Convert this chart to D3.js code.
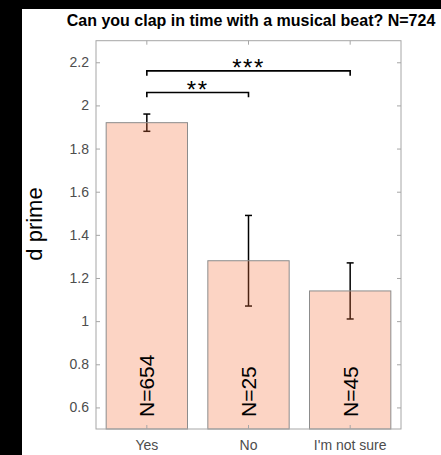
<!DOCTYPE html>
<html lang="en">
<head>
  <meta charset="UTF-8">
  <title>Clap in time - d prime</title>
  <script src="https://cdnjs.cloudflare.com/ajax/libs/d3/7.8.5/d3.min.js"></script>
  <style>
    body {
      margin: 0;
      padding: 0;
      background: #fff;
      font-family: "Liberation Sans", Arial, sans-serif;
    }
  </style>
</head>
<body>
  <div id="chart"></div>
  <script>
    // data
    const categories = ["Yes", "No", "I'm not sure"];
    const means = [1.92, 1.28, 1.14];
    const errors = [0.04, 0.21, 0.13];
    const counts = [654, 25, 45];
    const yTicks = [0.6, 0.8, 1, 1.2, 1.4, 1.6, 1.8, 2, 2.2];
    const sigFrom = [0, 0];
    const sigTo = [2, 1];
    const sigLevel = [2.16, 2.06];
    const sigLabel = ["***", "**"];

    const width = 441;
    const height = 455;
    const margin = { top: 40.7, right: 40, bottom: 26, left: 96 };

    const svg = d3.select("#chart")
      .append("svg")
      .attr("width", width)
      .attr("height", height);

    // black strips round the figure edge
    svg.append("rect").attr("x", 0).attr("y", 0).attr("width", width).attr("height", 9).attr("fill", "#000");
    svg.append("rect").attr("x", 0).attr("y", 0).attr("width", 22).attr("height", height).attr("fill", "#000");

    const x = d3.scaleBand()
      .domain(categories)
      .range([margin.left, width - margin.right])
      .paddingInner(0.2)
      .paddingOuter(0.1);

    const y = d3.scaleLinear()
      .domain([0.5, 2.3])
      .range([height - margin.bottom, margin.top]);

    const cx = c => x(c) + x.bandwidth() / 2;
    const data = categories.map((c, i) => ({ c, m: means[i], e: errors[i], n: counts[i] }));

    // error bars (drawn below the translucent bars)
    const eb = svg.append("g").attr("stroke", "#000").attr("stroke-width", 1.5);
    data.forEach(d => {
      eb.append("line").attr("x1", cx(d.c)).attr("x2", cx(d.c))
        .attr("y1", y(d.m - d.e)).attr("y2", y(d.m + d.e));
      [d.m - d.e, d.m + d.e].forEach(v => {
        eb.append("line").attr("x1", cx(d.c) - 3.5).attr("x2", cx(d.c) + 3.5)
          .attr("y1", y(v)).attr("y2", y(v));
      });
    });

    svg.append("g")
      .selectAll("rect")
      .data(data)
      .join("rect")
      .attr("x", d => x(d.c))
      .attr("width", x.bandwidth())
      .attr("y", d => y(d.m))
      .attr("height", d => y(0.5) - y(d.m))
      .attr("fill", "rgb(245,112,58)")
      .attr("fill-opacity", 0.3)
      .attr("stroke", "#8c8c8c")
      .attr("stroke-width", 1);

    // N labels inside bars
    svg.append("g")
      .selectAll("text")
      .data(data)
      .join("text")
      .attr("transform", d => `translate(${cx(d.c) + 7.5},${y(0.5) - 12}) rotate(-90)`)
      .attr("font-size", 21)
      .attr("fill", "#000")
      .text(d => "N=" + d.n);

    // axes box
    const bx0 = margin.left, bx1 = width - margin.right;
    const by0 = y(0.5), by1 = y(2.3);
    svg.append("rect")
      .attr("x", bx0).attr("y", by1)
      .attr("width", bx1 - bx0).attr("height", by0 - by1)
      .attr("fill", "none").attr("stroke", "#a6a6a6").attr("stroke-width", 1);

    const axLeft = svg.append("g")
      .attr("transform", `translate(${bx0},0)`)
      .call(d3.axisLeft(y).tickValues(yTicks).tickSize(-4).tickPadding(7).tickFormat(d3.format("")));
    const axRight = svg.append("g")
      .attr("transform", `translate(${bx1},0)`)
      .call(d3.axisRight(y).tickValues(yTicks).tickSize(-4).tickFormat(""));
    const axBottom = svg.append("g")
      .attr("transform", `translate(0,${by0})`)
      .call(d3.axisBottom(x).tickSize(-4).tickPadding(11));
    const axTop = svg.append("g")
      .attr("transform", `translate(0,${by1})`)
      .call(d3.axisTop(x).tickSize(-4).tickFormat(""));

    [axLeft, axRight, axBottom, axTop].forEach(g => {
      g.select(".domain").remove();
      g.selectAll(".tick line").attr("stroke", "#a6a6a6");
      g.selectAll("text")
        .attr("fill", "#4d4d4d")
        .attr("font-size", 14)
        .attr("font-family", "'Liberation Sans', Arial, sans-serif");
    });

    // significance brackets
    const sig = svg.append("g");
    sigLabel.forEach((lab, i) => {
      const xa = cx(categories[sigFrom[i]]);
      const xb = cx(categories[sigTo[i]]);
      const yl = y(sigLevel[i]);
      const yd = y(sigLevel[i] - 0.022);
      sig.append("path")
        .attr("d", `M${xa},${yd}V${yl}H${xb}V${yd}`)
        .attr("fill", "none").attr("stroke", "#000").attr("stroke-width", 1.6);
      sig.append("text")
        .attr("x", (xa + xb) / 2)
        .attr("y", yl + 5.5)
        .attr("text-anchor", "middle")
        .attr("font-size", 24)
        .attr("letter-spacing", 1.5)
        .text(lab);
    });

    // y label
    svg.append("text")
      .attr("transform", `translate(42,224) rotate(-90)`)
      .attr("text-anchor", "middle")
      .attr("font-size", 22)
      .attr("fill", "#000")
      .text("d prime");

    // title
    svg.append("text")
      .attr("x", 251)
      .attr("y", 26)
      .attr("text-anchor", "middle")
      .attr("font-size", 16)
      .attr("font-weight", "bold")
      .attr("fill", "#000")
      .text("Can you clap in time with a musical beat? N=724");
  </script>
</body>
</html>
